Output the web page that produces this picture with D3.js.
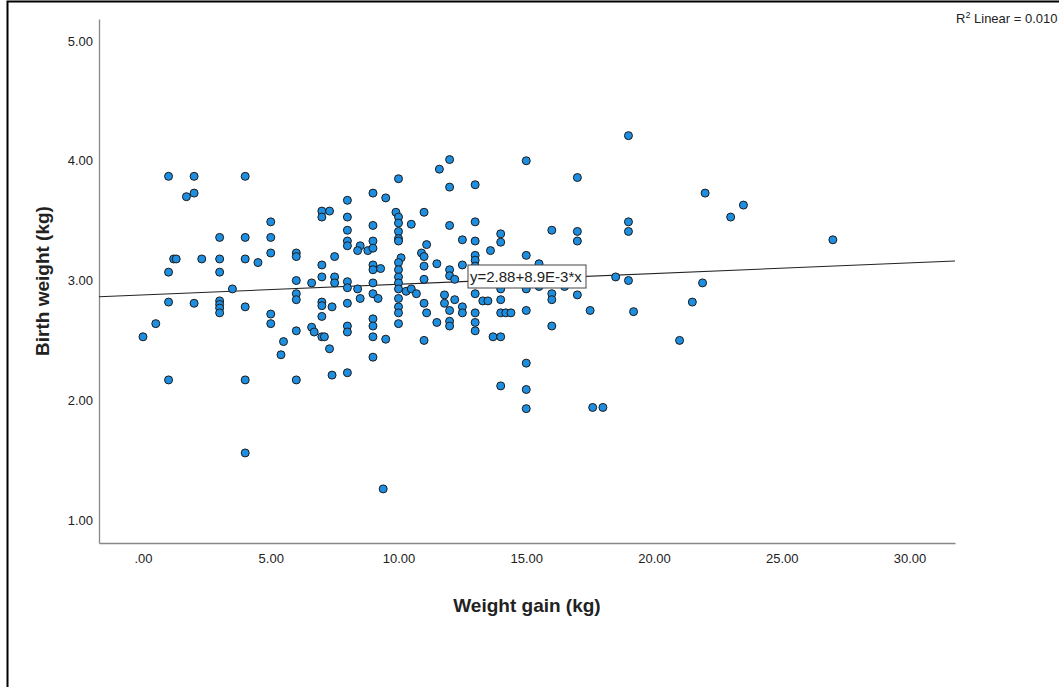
<!DOCTYPE html>
<html><head><meta charset="utf-8">
<script src="https://cdn.jsdelivr.net/npm/d3@7/dist/d3.min.js"></script>
<style>body{margin:0;background:#fff;} text{font-family:Arial,"Liberation Sans",sans-serif;}</style>
</head><body><svg id="c" width="1059" height="687"></svg>
<script>
const weightGain = [1,2,4,1.7,2,5,3,4,5,1.2,1.3,2.3,3,4,4.5,5,1,3,3.5,1,2,3,3,3,3,4,5,5,0.5,0,1,4,4,
10,9,9.5,8,7,7,7.3,8,9.9,10,10,10,10,10,10.5,9,8,8,8,8.5,8.4,8.8,9,9,6,6,7.5,7,7,7.5,9,9,9.3,10.1,10,10,6,6.6,7.5,8,8,8.4,9,9,10,10,10,10.3,10.5,10.7,6,6,7,7,7.4,8,8.5,9.2,10,10,
10,10,6,5.5,5.4,6.6,6.7,7,7,7.1,7.3,8,8,9,9,9,9.5,9,6,7.4,8,9.4,
12,11.6,12,13,15,11,12,13,14,14,16,12.5,13,13.6,11.1,10.9,11,11.5,11,12,12,12.2,12.5,13,13,13,15,15.5,11,11,11.8,11.8,12.2,12.5,13,13.3,13.5,14,14,15,15.5,16,16,
11.1,12,12,12,11.5,12.5,13,13,13,14,14.2,14.4,13.7,14,15,16,11,15,14,15,15,
19,17,22,17,17,19,19,18.5,19,21.9,17,16.5,21.5,17.5,19.2,21,17.6,18,23.5,23,27];
const birthWeight = [3.87,3.87,3.87,3.70,3.73,3.49,3.36,3.36,3.36,3.18,3.18,3.18,3.18,3.18,3.15,3.23,3.07,3.07,2.93,2.82,2.81,2.83,2.80,2.77,2.73,2.78,2.72,2.64,2.64,2.53,2.17,2.17,1.56,
3.85,3.73,3.69,3.67,3.58,3.53,3.58,3.53,3.57,3.53,3.48,3.41,3.35,3.33,3.47,3.46,3.42,3.33,3.29,3.29,3.25,3.25,3.33,3.27,3.23,3.20,3.20,3.13,3.03,3.03,3.13,3.09,3.10,3.19,3.15,3.09,3.00,2.98,2.98,2.99,2.94,2.93,2.98,2.89,3.03,2.98,2.93,2.91,2.93,2.89,2.89,2.84,2.82,2.79,2.78,2.81,2.85,2.85,2.85,2.78,
2.73,2.64,2.58,2.49,2.38,2.61,2.57,2.70,2.53,2.53,2.43,2.62,2.57,2.68,2.62,2.53,2.51,2.36,2.17,2.21,2.23,1.26,
4.01,3.93,3.78,3.80,4.00,3.57,3.46,3.49,3.39,3.32,3.42,3.34,3.33,3.25,3.30,3.23,3.20,3.14,3.12,3.09,3.04,3.01,3.13,3.21,3.17,3.12,3.21,3.14,3.01,2.81,2.88,2.81,2.84,2.78,2.89,2.83,2.83,2.93,2.84,2.93,2.95,2.89,2.84,
2.73,2.75,2.66,2.62,2.65,2.73,2.73,2.65,2.58,2.73,2.73,2.73,2.53,2.53,2.75,2.62,2.50,2.31,2.12,2.09,1.93,
4.21,3.86,3.73,3.41,3.33,3.49,3.41,3.03,3.00,2.98,2.88,2.95,2.82,2.75,2.74,2.50,1.94,1.94,3.63,3.53,3.34];
const xTicks = [0,5,10,15,20,25,30];
const yTicks = [1,2,3,4,5];
const fitCoef = [2.88, 0.0089];
const fitLabel = ["y=2.88+8.9E-3*x"];
const rSquared = ["0.010"];
const axisTitles = ["Weight gain (kg)", "Birth weight (kg)"];

const svg = d3.select("#c");
svg.append("rect").attr("x",7.5).attr("y",1.5).attr("width",1200).attr("height",900)
  .attr("fill","none").attr("stroke","#000").attr("stroke-width",2);

const x = d3.scaleLinear().domain([-1.722, 31.78]).range([99, 955]);
const y = d3.scaleLinear().domain([0.808, 5.184]).range([543, 19]);
const fmt = v => { const s = d3.format(".2f")(v); return s.startsWith("0.") ? s.slice(1) : s; };

// axes
const gx = svg.append("g").attr("transform","translate(0,543)")
  .call(d3.axisBottom(x).tickValues(xTicks).tickSize(0).tickPadding(11).tickFormat(fmt));
const gy = svg.append("g").attr("transform","translate(99,0)")
  .call(d3.axisLeft(y).tickValues(yTicks).tickSize(0).tickPadding(6).tickFormat(fmt));
[gx,gy].forEach(g=>{
  g.select(".domain").attr("stroke","#888").attr("stroke-width",1.3);
  g.selectAll("text").attr("font-size",13).attr("fill","#222").attr("font-family","Arial, 'Liberation Sans', sans-serif");
});

// regression line
const xd = x.domain();
svg.append("line")
  .attr("x1", x(xd[0])).attr("y1", y(fitCoef[0]+fitCoef[1]*xd[0]))
  .attr("x2", x(xd[1])).attr("y2", y(fitCoef[0]+fitCoef[1]*xd[1]))
  .attr("stroke","#222").attr("stroke-width",1.1);

// points
const pts = weightGain.map((g,i)=>({g, w: birthWeight[i]}));
svg.append("g").selectAll("circle").data(pts).join("circle")
  .attr("cx", d=>x(d.g)).attr("cy", d=>y(d.w)).attr("r",4)
  .attr("fill","#1e8ee0").attr("stroke","#1b1b1b").attr("stroke-width",1);

// fit label box
const lbx = x(12.72), lby = 265;
svg.append("rect").attr("x",lbx).attr("y",lby).attr("width",118).attr("height",23)
  .attr("fill","#fff").attr("stroke","#444").attr("stroke-width",1);
svg.append("text").attr("x",lbx+2).attr("y",lby+17).attr("font-size",15).attr("fill","#222").text(fitLabel[0]);

// R squared
const rt = svg.append("text").attr("x",956).attr("y",23).attr("font-size",13).attr("fill","#222");
rt.append("tspan").text("R");
rt.append("tspan").attr("dy",-5).attr("font-size",9).text("2");
rt.append("tspan").attr("dy",5).text(" Linear = " + rSquared[0]);

// axis titles
svg.append("text").attr("x",527).attr("y",612).attr("text-anchor","middle")
  .attr("font-size",19).attr("font-weight","bold").attr("fill","#222").text(axisTitles[0]);
svg.append("text").attr("transform","translate(49,281) rotate(-90)").attr("text-anchor","middle")
  .attr("font-size",19).attr("font-weight","bold").attr("fill","#222").text(axisTitles[1]);
</script></body></html>
